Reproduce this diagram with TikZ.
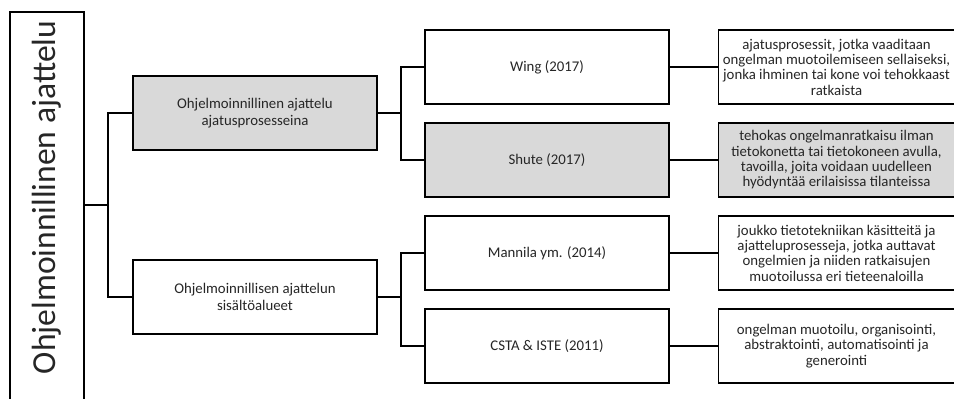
\documentclass[tikz,border=0pt]{standalone}
\usepackage{graphicx}
\usepackage{fontspec}
\setmainfont{Carlito}
\usetikzlibrary{positioning}

\begin{document}
\begin{tikzpicture}[x=1pt,y=-1pt]
      \colorlet{boxgray}{black!15}
      \colorlet{inkgray}{black!85}
      \tikzset{box/.style={draw=black,line width=1.5pt,fill=white,text=inkgray,
          align=center,inner sep=0pt,minimum width=244pt,minimum height=74pt,
          font=\fontsize{14.8}{17}\selectfont}}
      \tikzset{descbox/.style={box,minimum width=236pt,
          font=\fontsize{14.8}{15.3}\selectfont}}
      \tikzset{shaded/.style={fill=boxgray}}
      \tikzset{link/.style={line width=1.2pt,black}}

      \useasboundingbox (0,0) rectangle (954,399);

      \node[draw=black,line width=1.5pt,text=inkgray,anchor=north,
          minimum width=74pt,inner xsep=0pt,inner ysep=9pt,
          font=\fontsize{33.6}{40}\selectfont] (root) at (47,11)
          {\rotatebox{90}{\makebox[400pt][r]{Ohjelmoinnillinen ajattelu}}};

      \node[box,shaded] (view) at (255,113) {Ohjelmoinnillinen ajattelu\\ajatusprosesseina};
      \node[box] (areas) at (255,297) {Ohjelmoinnillisen ajattelun\\sisältöalueet};

      \node[box] (wing) at (547,67) {Wing (2017)};
      \node[box,shaded] (shute) at (547,160) {Shute (2017)};
      \node[box] (mannila) at (547,253) {Mannila ym. (2014)};
      \node[box] (csta) at (547,346) {CSTA \& ISTE (2011)};

      \node[descbox,right=48pt of wing] (wingdef)
          {ajatusprosessit, jotka vaaditaan\\ongelman muotoilemiseen sellaiseksi,\\jonka ihminen tai kone voi tehokkaast\\ratkaista};
      \node[descbox,shaded,right=48pt of shute] (shutedef)
          {tehokas ongelmanratkaisu ilman\\tietokonetta tai tietokoneen avulla,\\tavoilla, joita voidaan uudelleen\\hyödyntää erilaisissa tilanteissa};
      \node[descbox,right=48pt of mannila] (mannildef)
          {joukko tietotekniikan käsitteitä ja\\ajatteluprosesseja, jotka auttavat\\ongelmien ja niiden ratkaisujen\\muotoilussa eri tieteenaloilla};
      \node[descbox,right=48pt of csta] (cstadef)
          {ongelman muotoilu, organisointi,\\abstraktointi, automatisointi ja\\generointi};

      \coordinate (fork) at (108,205);
      \coordinate (forkup) at (401,113);
      \coordinate (forkdown) at (401,297);

      \draw[link] (root.east |- fork) -- (fork);
      \draw[link] (view.west) -| (fork) |- (areas.west);
      \draw[link] (view.east) -- (forkup);
      \draw[link] (wing.west) -| (forkup) |- (shute.west);
      \draw[link] (areas.east) -- (forkdown);
      \draw[link] (mannila.west) -| (forkdown) |- (csta.west);
      \foreach \src/\dst in {wing/wingdef,shute/shutedef,mannila/mannildef,csta/cstadef}
          \draw[link] (\src) -- (\dst);
\end{tikzpicture}
\end{document}
